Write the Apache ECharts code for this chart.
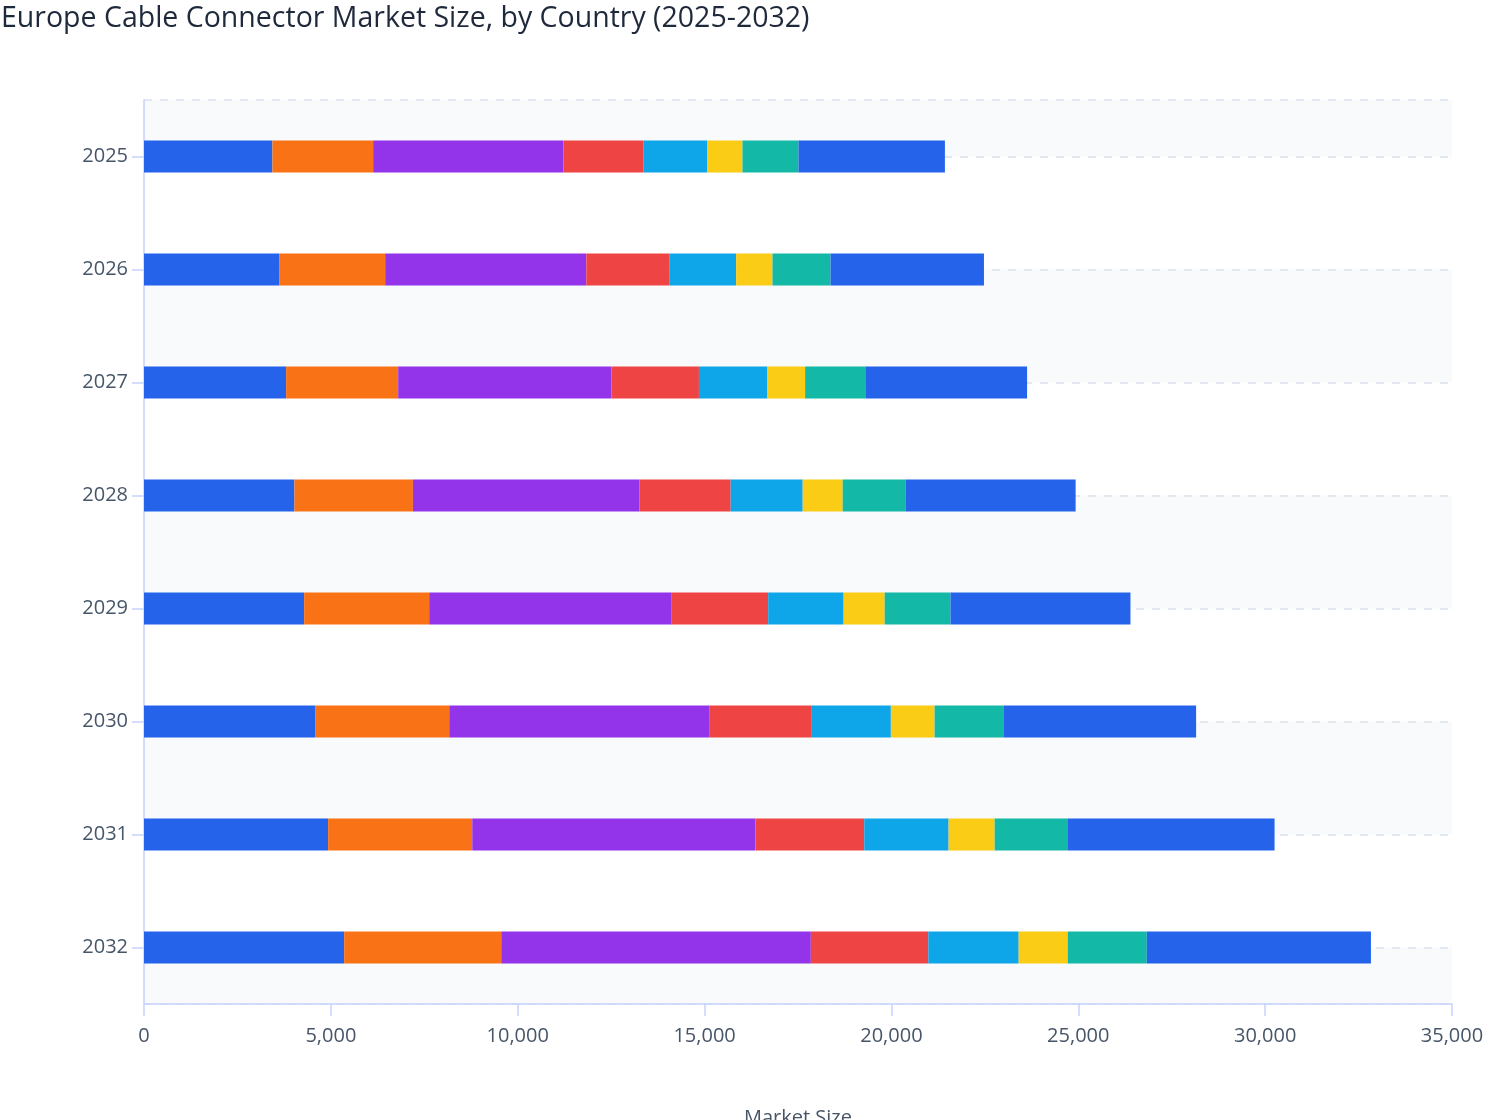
<!DOCTYPE html>
<html>
<head>
<meta charset="utf-8">
<title>Europe Cable Connector Market Size</title>
<script src="https://cdn.jsdelivr.net/npm/echarts@6/dist/echarts.min.js"></script>
<style>
  html, body { margin: 0; padding: 0; background: #fff; overflow: hidden; }
  #chart { width: 1508px; height: 1200px; }
</style>
</head>
<body>
<div id="chart"></div>
<script>
// years shown on the y axis (top to bottom)
var years = ['2025', '2026', '2027', '2028', '2029', '2030', '2031', '2032'];

// country names (legend is outside the visible frame)
var countries = ['Germany', 'UK', 'France', 'Italy', 'Spain', 'Netherlands', 'Belgium', 'Rest of Europe'];

// market size per country, one value per year
var germany     = [3436, 3615, 3803, 4025, 4285, 4579, 4927, 5356];
var uk          = [2696, 2839, 2999, 3171, 3347, 3589, 3857, 4204];
var france      = [5088, 5382, 5704, 6057, 6489, 6970, 7578, 8283];
var italy       = [2151, 2231, 2343, 2445, 2581, 2732, 2911, 3144];
var spain       = [1706, 1778, 1834, 1928, 2019, 2115, 2257, 2418];
var netherlands = [937, 972, 1007, 1069, 1098, 1170, 1232, 1312];
var belgium     = [1499, 1553, 1612, 1679, 1762, 1856, 1963, 2116];
var restEurope  = [3918, 4106, 4328, 4555, 4815, 5142, 5527, 5998];

var seriesValues = [germany, uk, france, italy, spain, netherlands, belgium, restEurope];
var colors = ['#2563eb', '#f97316', '#9333ea', '#ef4444', '#0ea5e9', '#facc15', '#14b8a6', '#2563eb'];

// helper axis: half-band steps so the dashed lines and shading sit on the bar centres
var bandMarks = ['edge0'];
years.forEach(function (y, i) {
	bandMarks.push('c' + y);
	bandMarks.push(i < years.length - 1 ? 'b' + y : 'edge1');
});
function onCentre(idx) {
	return idx % 2 === 1 || idx === 0 || idx === bandMarks.length - 1;
}

// 5000 -> "5,000"
function thousands(v) {
	return String(v).replace(/\B(?=(\d{3})+(?!\d))/g, ',');
}

var series = [];
for (var i = 0; i < countries.length; i++) {
	series.push({
		name: countries[i],
		type: 'bar',
		stack: 'total',
		yAxisIndex: 0,
		barWidth: 32,
		itemStyle: { color: colors[i] },
		data: seriesValues[i]
	});
}

var myChart = echarts.init(document.getElementById('chart'));

var option = {
	textStyle: { fontFamily: 'Open Sans' },
	animation: false,
	title: {
		text: 'Europe Cable Connector Market Size, by Country (2025-2032)',
		left: 1,
		top: 4,
		padding: 0,
		textStyle: { fontSize: 28.5, fontWeight: 500, color: '#1e293b', fontFamily: 'Open Sans' }
	},
	tooltip: { trigger: 'axis', axisPointer: { type: 'shadow' } },
	grid: { left: 144, right: 56, top: 100, bottom: 196 },
	xAxis: {
		type: 'value',
		min: 0,
		max: 35000,
		interval: 5000,
		name: 'Market Size',
		nameLocation: 'middle',
		nameGap: 104,
		nameTextStyle: { fontSize: 20, color: '#475569' },
		axisLine: { show: true, lineStyle: { color: '#c7d2fe', width: 1.5 } },
		axisTick: { show: true, length: 12, lineStyle: { color: '#c7d2fe', width: 1.5 } },
		axisLabel: {
			fontSize: 20,
			color: '#475569',
			margin: 22,
			formatter: thousands
		},
		splitLine: { show: false }
	},
	yAxis: [{
		type: 'category',
		data: years,
		inverse: true,
		axisLine: { show: true, lineStyle: { color: '#c7d2fe', width: 1.5 } },
		axisTick: { show: true, length: 12, alignWithLabel: true, lineStyle: { color: '#c7d2fe', width: 1.5 } },
		axisLabel: { fontSize: 20, color: '#475569', margin: 16, padding: [4, 0, 0, 0] },
		splitLine: { show: false }
	}, {
		type: 'category',
		data: bandMarks,
		boundaryGap: false,
		inverse: true,
		position: 'left',
		axisLine: { show: false },
		axisTick: { show: false },
		axisLabel: { show: false },
		splitLine: {
			show: true,
			interval: function (idx) { return onCentre(idx); },
			lineStyle: { type: [8, 8], color: '#e2e8f0', width: 2 }
		},
		splitArea: {
			show: true,
			interval: function (idx) { return onCentre(idx); },
			areaStyle: { color: ['#f8fafc', 'rgba(255,255,255,0)'] }
		}
	}],
	series: series
};

myChart.setOption(option);
</script>
</body>
</html>
